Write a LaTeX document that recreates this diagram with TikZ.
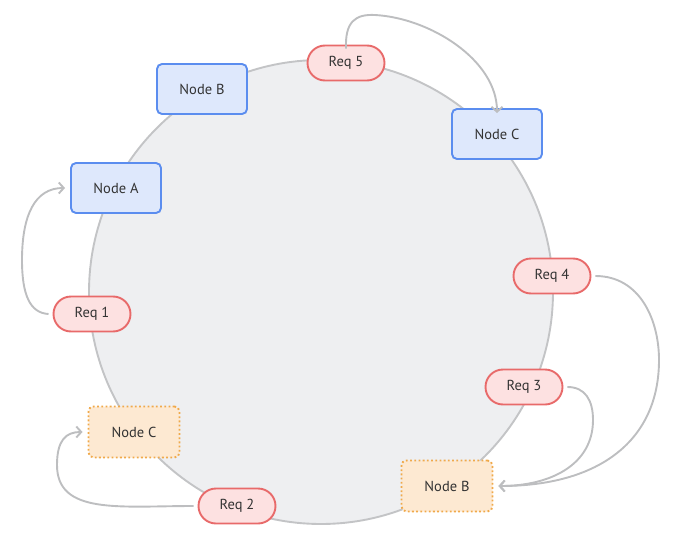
\documentclass[tikz,border=0pt]{standalone}
\usepackage{fontspec}
\setmainfont{PT Sans}
\usetikzlibrary{arrows.meta}
\definecolor{ringfill}{HTML}{EEEFF1}
\definecolor{ringline}{HTML}{C3C4C6}
\definecolor{bluefill}{HTML}{DEE8FC}
\definecolor{blueline}{HTML}{5B8DEF}
\definecolor{redfill}{HTML}{FDE1E1}
\definecolor{redline}{HTML}{E86A6A}
\definecolor{orgfill}{HTML}{FDE9D2}
\definecolor{orgline}{HTML}{F0A94A}
\definecolor{arrowc}{HTML}{BDBEC0}
\definecolor{txt}{HTML}{333333}
\tikzset{
  base/.style={font=\fontsize{14.5}{17}\selectfont, text=txt, inner sep=0pt},
  server/.style={base, draw=blueline, fill=bluefill, line width=1.9pt, rounded corners=5pt, minimum width=90pt, minimum height=50pt},
  ghost/.style={base, draw=orgline, fill=orgfill, line width=1.9pt, rounded corners=5pt, minimum width=91pt, minimum height=51pt, dash pattern=on 1.8pt off 2.4pt},
  req/.style={base, draw=redline, fill=redfill, line width=1.9pt, rounded corners=17.5pt, minimum width=77pt, minimum height=35pt},
  flow/.style={draw=arrowc, line width=1.9pt, -{Straight Barb[length=5pt,width=11pt]}},
}
\begin{document}
\begin{tikzpicture}[x=1pt,y=-1pt]
\useasboundingbox (0,0) rectangle (677,535);
\node[circle, draw=ringline, fill=ringfill, line width=1.9pt, minimum size=464pt, inner sep=0pt] (ring) at (321,292) {};

\node[server] (nb) at (202,89) {Node B};
\node[server] (na) at (116,188) {Node A};
\node[server] (nc) at (497,134) {Node C};
\node[ghost] (gb) at (447,486) {Node B};
\node[ghost] (gc) at (134,432) {Node C};

\node[req] (r5) at (346,63) {Req 5};
\node[req] (r4) at (552,276) {Req 4};
\node[req] (r3) at (524,387) {Req 3};
\node[req] (r2) at (237,506) {Req 2};
\node[req] (r1) at (92,314) {Req 1};

\coordinate (t1) at (22,260);
\coordinate (t2) at (57,465);
\coordinate (t3) at (593,420);
\coordinate (t4) at (659,360);
\coordinate (t5) at (375,15);

\draw[flow] ([xshift=-4pt]r1.west) .. controls (30,313) and (22,295) .. (t1)
  .. controls (22,215) and (35,188) .. ([xshift=-5pt]na.west);
\draw[flow] ([xshift=-4pt]r2.west) .. controls (120,506) and (57,515) .. (t2)
  .. controls (57,440) and (66,432) .. ([xshift=-5pt]gc.west);
\draw[flow] ([xshift=4pt]r3.east) .. controls (585,387) and (593,400) .. (t3)
  .. controls (593,465) and (550,486) .. ([xshift=5pt]gb.east);
\draw[flow] ([xshift=4pt]r4.east) .. controls (640,276) and (659,320) .. (t4)
  .. controls (659,440) and (600,486) .. ([xshift=5pt]gb.east);
\draw[flow] ([yshift=-4pt]r5.north) .. controls (345,22) and (355,14) .. (t5)
  .. controls (430,18) and (497,60) .. ([yshift=-5pt]nc.north);
\end{tikzpicture}
\end{document}
